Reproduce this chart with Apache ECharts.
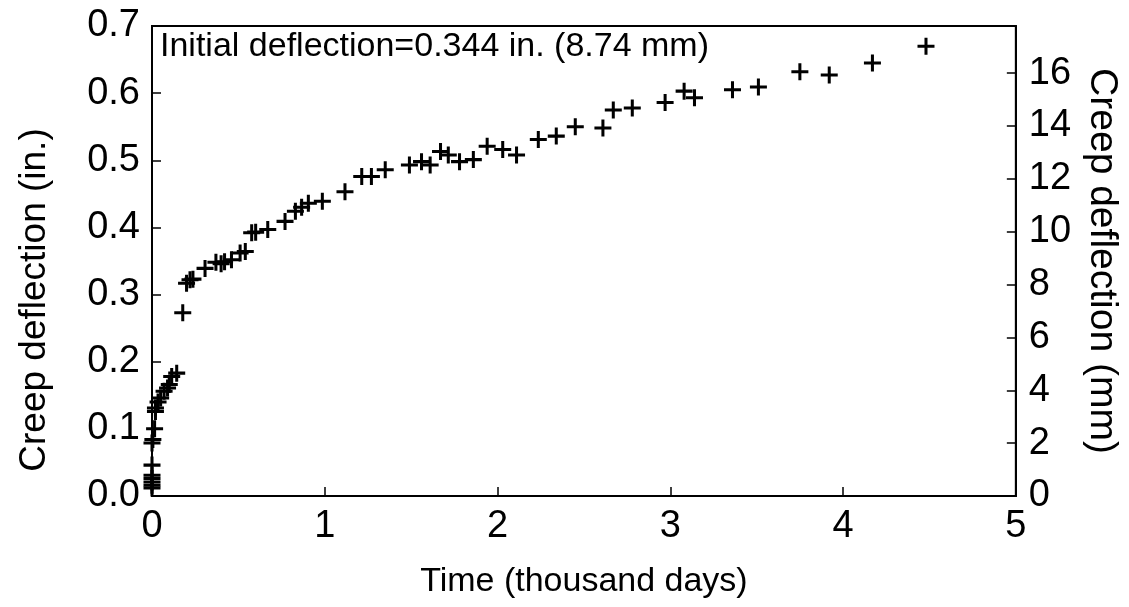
<!DOCTYPE html>
<html>
<head>
<meta charset="utf-8">
<script src="https://cdn.jsdelivr.net/npm/echarts@6/dist/echarts.min.js"></script>
<style>
  html, body { margin: 0; padding: 0; background: #fff; }
  #chart { width: 1129px; height: 607px; }
</style>
</head>
<body>
<div id="chart"></div>
<script>
// time in thousand days
var timeK = [
  0, 0, 0, 0, 0, 0, 0, 0.005, 0.015, 0.02, 0.02, 0.035, 0.05, 0.07, 0.09, 0.1, 0.114, 0.143,
  0.178, 0.2, 0.22, 0.237, 0.307, 0.37, 0.40, 0.42, 0.46, 0.51, 0.54, 0.577, 0.60, 0.67, 0.77,
  0.83, 0.866, 0.905, 0.986, 1.117,
  1.214, 1.27, 1.35, 1.49, 1.56, 1.61, 1.67, 1.715, 1.78, 1.86, 1.94, 2.03, 2.11, 2.236, 2.34, 2.45,
  2.61, 2.67, 2.78, 2.97, 3.08, 3.14, 3.36, 3.51, 3.75, 3.92, 4.17, 4.48
];
// creep deflection in inches
var creepIn = [
  0.012, 0.016, 0.021, 0.026, 0.031, 0.046, 0.079, 0.084, 0.1, 0.126, 0.131, 0.14, 0.146, 0.156, 0.161, 0.166, 0.178, 0.183,
  0.273, 0.317, 0.322, 0.323, 0.339, 0.348, 0.346, 0.349, 0.352, 0.362, 0.364, 0.392, 0.393, 0.397, 0.409,
  0.424, 0.43, 0.436, 0.439, 0.453,
  0.476, 0.476, 0.486, 0.493, 0.498, 0.493, 0.513, 0.508, 0.498, 0.501, 0.521, 0.516, 0.508, 0.531, 0.536, 0.55,
  0.548, 0.575, 0.578, 0.586, 0.603, 0.593, 0.605, 0.609, 0.632, 0.627, 0.645, 0.67
];
var xTicks = [0, 1, 2, 3, 4, 5];
var inTicks = [0, 0.1, 0.2, 0.3, 0.4, 0.5, 0.6, 0.7];
var mmTicks = [0, 2, 4, 6, 8, 10, 12, 14, 16];
var noteText = 'Initial deflection=0.344 in. (8.74 mm)';
var leftName = 'Creep deflection (in.)';

var MM_PER_IN = 25.4;
var font = '"Liberation Sans", Arial, Helvetica, sans-serif';
var plus = 'path://M-1.6,-9L1.6,-9L1.6,-1.6L9,-1.6L9,1.6L1.6,1.6L1.6,9L-1.6,9L-1.6,1.6L-9,1.6L-9,-1.6L-1.6,-1.6Z';

var pts = [];
for (var i = 0; i < timeK.length; i++) {
  pts.push([timeK[i], creepIn[i]]);
}

var chart = echarts.init(document.getElementById('chart'));
var option = {
  animation: false,
  backgroundColor: '#fff',
  grid: {
    left: 152, right: 112, top: 26, bottom: 111,
    show: true, borderColor: '#000', borderWidth: 2
  },
  xAxis: {
    type: 'value',
    min: xTicks[0], max: xTicks[xTicks.length - 1], interval: 1,
    name: 'Time (thousand days)',
    nameLocation: 'middle', nameGap: 69,
    nameTextStyle: { color: '#000', fontSize: 34, fontFamily: font },
    axisLine: { show: true, onZero: false, lineStyle: { color: '#000', width: 2 } },
    axisTick: { show: true, inside: true, length: 9, lineStyle: { color: '#000', width: 1.5 } },
    axisLabel: { color: '#000', fontSize: 38, fontFamily: font, margin: 12 },
    splitLine: { show: false }
  },
  yAxis: [{
    type: 'value',
    position: 'left',
    min: inTicks[0], max: inTicks[inTicks.length - 1], interval: 0.1,
    axisLine: { show: true, onZero: false, lineStyle: { color: '#000', width: 2 } },
    axisTick: { show: true, inside: true, length: 9, lineStyle: { color: '#000', width: 1.5 } },
    axisLabel: { color: '#000', fontSize: 38, fontFamily: font, margin: 12,
      formatter: function (v) { return v.toFixed(1); } },
    splitLine: { show: false }
  }, {
    type: 'value',
    position: 'right',
    min: mmTicks[0], max: inTicks[inTicks.length - 1] * MM_PER_IN, interval: 2,
    name: 'Creep deflection (mm)',
    nameLocation: 'middle', nameGap: 58, nameRotate: -90,
    nameTextStyle: { color: '#000', fontSize: 39, fontFamily: font },
    axisLine: { show: true, onZero: false, lineStyle: { color: '#000', width: 2 } },
    axisTick: { show: true, inside: true, length: 9, lineStyle: { color: '#000', width: 1.5 } },
    axisLabel: { color: '#000', fontSize: 38, fontFamily: font, margin: 13, showMaxLabel: false,
      formatter: function (v) { return mmTicks.indexOf(v) >= 0 ? String(v) : ''; } },
    splitLine: { show: false }
  }],
  graphic: [{
    type: 'text',
    left: 160, top: 30,
    style: { text: noteText, fill: '#000', fontSize: 34, fontFamily: font }
  }, {
    // left axis title sits lower than the axis middle in the original
    type: 'text',
    x: 35, y: 300, rotation: Math.PI / 2,
    style: { text: leftName, fill: '#000', fontSize: 37, fontFamily: font,
      align: 'center', verticalAlign: 'middle' }
  }],
  series: [{
    type: 'scatter',
    yAxisIndex: 0,
    data: pts,
    symbol: plus,
    symbolSize: 17,
    itemStyle: { color: '#000', opacity: 1 },
    clip: false
  }]
};
chart.setOption(option);
</script>
</body>
</html>
